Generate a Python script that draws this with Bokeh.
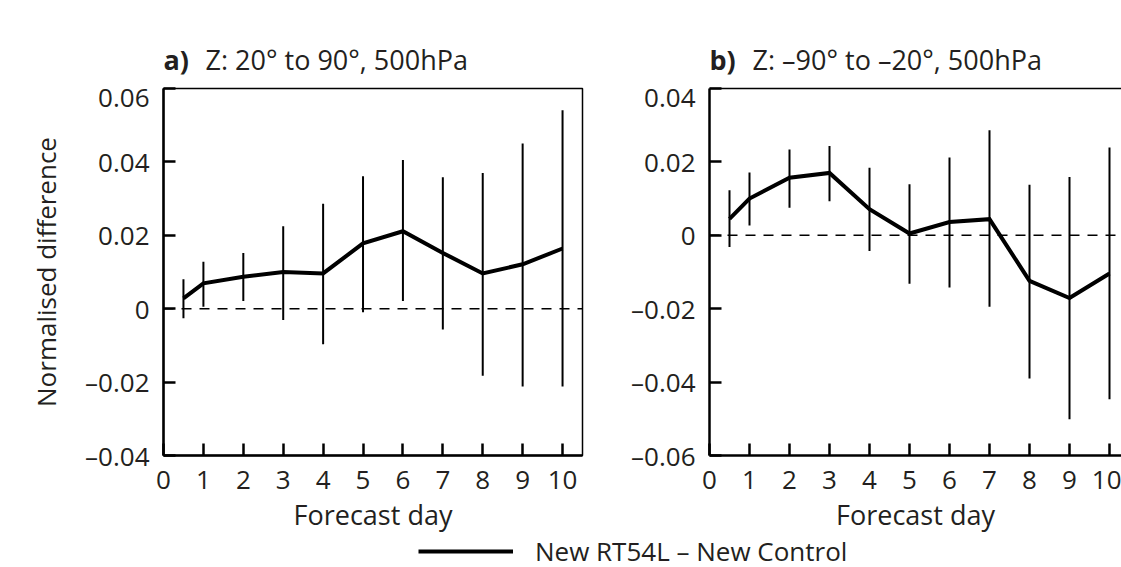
from bokeh.plotting import figure
from bokeh.models import (Range1d, FixedTicker, CustomJSTickFormatter, Span, Label,
                          LinearAxis, Legend, LegendItem)
from bokeh.layouts import row, column
from bokeh.embed import file_html
from bokeh.resources import INLINE

# ---- data ----
days = [0.5, 1, 2, 3, 4, 5, 6, 7, 8, 9, 10]
x_ticks = [0, 1, 2, 3, 4, 5, 6, 7, 8, 9, 10]

a_mean = [0.0028, 0.0069, 0.0087, 0.0100, 0.0096, 0.0178, 0.0211, 0.0152, 0.0096, 0.0121, 0.0164]
a_upper = [0.0080, 0.0128, 0.0152, 0.0225, 0.0286, 0.0361, 0.0405, 0.0358, 0.0370, 0.0450, 0.0541]
a_lower = [-0.0026, 0.0005, 0.0021, -0.0031, -0.0097, -0.0010, 0.0021, -0.0057, -0.0183, -0.0212, -0.0212]
a_yticks = [-0.04, -0.02, 0, 0.02, 0.04, 0.06]

b_mean = [0.0045, 0.0100, 0.0157, 0.0170, 0.0071, 0.0005, 0.0036, 0.0044, -0.0124, -0.0171, -0.0104]
b_upper = [0.0123, 0.0171, 0.0234, 0.0243, 0.0184, 0.0139, 0.0212, 0.0286, 0.0138, 0.0159, 0.0239]
b_lower = [-0.0032, 0.0027, 0.0075, 0.0093, -0.0043, -0.0132, -0.0142, -0.0195, -0.0390, -0.0501, -0.0447]
b_yticks = [-0.06, -0.04, -0.02, 0, 0.02, 0.04]

title_a_tag, title_a = "a)", "Z: 20° to 90°, 500hPa"
title_b_tag, title_b = "b)", "Z: –90° to –20°, 500hPa"
ylabel = "Normalised difference"
xlabel = "Forecast day"
legend_label = "New RT54L – New Control"

FONT = "Open Sans"
FS = "26px"
FS_T = "27px"
TXT = "#231f20"

W_A, W_B = 598, 523
H_HEAD, H_PANEL, H_LEG = 78, 458, 31
TOP_BORDER = 10

fmt = CustomJSTickFormatter(code="""
if (Math.abs(tick) < 1e-12) { return "0"; }
return (tick < 0 ? "\\u2013" : "") + Math.abs(tick).toFixed(2);
""")


def blank(p):
    p.axis.visible = False
    p.xgrid.visible = False
    p.ygrid.visible = False
    p.outline_line_color = None
    p.background_fill_color = None
    p.border_fill_color = None


def make_panel(width, border_left, border_right, xend, yr, yticks, mean, upper, lower,
               show_ylabel, outline):
    p = figure(width=width, height=H_PANEL, x_range=Range1d(0, xend), y_range=Range1d(*yr),
               output_backend="svg", toolbar_location=None,
               min_border_left=border_left, min_border_right=border_right,
               min_border_top=TOP_BORDER, min_border_bottom=H_PANEL - TOP_BORDER - 367)
    p.background_fill_color = None
    p.border_fill_color = None
    p.xgrid.visible = False
    p.ygrid.visible = False

    xa, ya = p.below[0], p.left[0]
    for ax in (xa, ya):
        ax.axis_line_width = 2.5
        ax.axis_line_color = "black"
        ax.major_tick_line_width = 2.5
        ax.major_tick_line_color = "black"
        ax.major_tick_in = 12
        ax.major_tick_out = 0
        ax.minor_tick_line_color = None
        ax.major_label_text_font = FONT
        ax.major_label_text_font_size = FS
        ax.major_label_text_color = TXT
        ax.axis_label_text_font = FONT
        ax.axis_label_text_font_size = FS
        ax.axis_label_text_font_style = "normal"
        ax.axis_label_text_color = TXT

    xa.ticker = FixedTicker(ticks=x_ticks)
    xa.major_label_standoff = 15
    xa.axis_label = xlabel
    xa.axis_label_text_font_size = FS_T
    xa.axis_label_standoff = 4
    ya.ticker = FixedTicker(ticks=yticks)
    ya.formatter = fmt
    ya.major_label_standoff = 14
    if show_ylabel:
        ya.axis_label = ylabel
        ya.axis_label_standoff = 18

    if outline:
        p.outline_line_color = "black"
        p.outline_line_width = 1.5
    else:
        p.outline_line_color = None
        top = LinearAxis(ticker=FixedTicker(ticks=[]), major_label_text_font_size="0px",
                         axis_line_width=1.5, axis_line_color="black",
                         major_tick_line_color=None, minor_tick_line_color=None)
        p.add_layout(top, "above")

    p.add_layout(Span(location=0, dimension="width", line_color="black",
                      line_width=1.5, line_dash="10 8"))
    p.segment(x0=days, y0=lower, x1=days, y1=upper, line_color="black", line_width=2)
    p.line(days, mean, line_color="black", line_width=4, line_join="miter")
    return p


pa = make_panel(W_A, 163, 16, 10.5, (-0.04, 0.06), a_yticks, a_mean, a_upper, a_lower,
                True, True)
pb = make_panel(W_B, 111, 0, 10.3, (-0.06, 0.04), b_yticks, b_mean, b_upper, b_lower,
                False, False)

# ---- header strip with the two panel titles (bold tag + regular text) ----
W = W_A + W_B
ph = figure(width=W, height=H_HEAD, x_range=Range1d(0, W), y_range=Range1d(0, H_HEAD),
            output_backend="svg", toolbar_location=None,
            min_border_left=0, min_border_right=0, min_border_top=0, min_border_bottom=0)
blank(ph)
base_y = 19
for x0, tag, x1, txt in ((163, title_a_tag, 205, title_a),
                         (709, title_b_tag, 752, title_b)):
    ph.add_layout(Label(x=x0, y=base_y, text=tag, text_font=FONT, text_font_size=FS_T,
                        text_font_style="bold", text_color=TXT,
                        text_baseline="alphabetic"))
    ph.add_layout(Label(x=x1, y=base_y, text=txt, text_font=FONT, text_font_size=FS_T,
                        text_color=TXT, text_baseline="alphabetic"))

# ---- legend strip (at the bottom edge, as in the reference) ----
pl = figure(width=W, height=H_LEG, x_range=Range1d(0, 1), y_range=Range1d(1, 2),
            output_backend="svg", toolbar_location=None,
            min_border_left=0, min_border_right=0, min_border_top=0, min_border_bottom=0)
blank(pl)
# renderer whose data lies outside this strip's range; only its legend glyph shows
leg_r = pl.line(x=days, y=a_mean, line_color="black", line_width=4)
leg = Legend(items=[LegendItem(label=legend_label, renderers=[leg_r])],
             location=(418, -2), glyph_width=95, glyph_height=26, label_height=26,
             label_standoff=22, padding=0, margin=0, spacing=0,
             border_line_color=None, background_fill_alpha=0,
             label_text_font=FONT, label_text_font_size=FS, label_text_color=TXT)
pl.add_layout(leg, "center")

layout = column(ph, row(pa, pb), pl)
open("out.html", "w").write(file_html(layout, INLINE))
